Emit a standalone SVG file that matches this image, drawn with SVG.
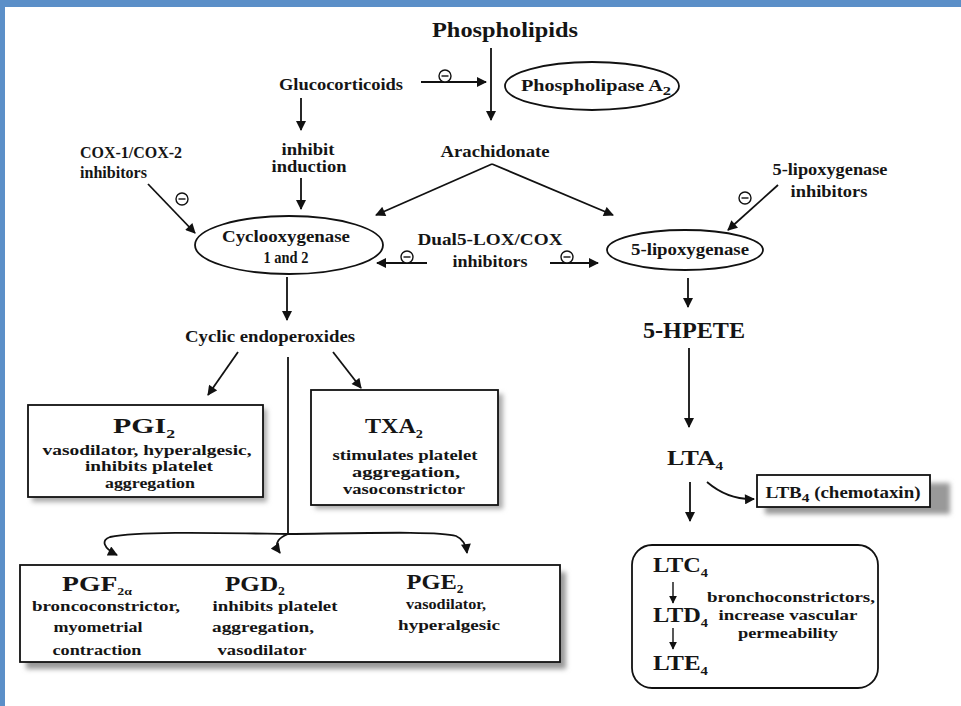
<svg xmlns="http://www.w3.org/2000/svg" width="961" height="706" viewBox="0 0 961 706">
<style>
text{font-family:"Liberation Serif","Times New Roman",serif;font-weight:bold;fill:#151515}
.s{font-size:16px}
.d{font-size:15px}
.b{font-size:22px}
.sub{font-size:13px}
.ln{fill:none;stroke:#111;stroke-width:1.8}
.thin{fill:none;stroke:#111;stroke-width:1.4}
.box{fill:#fff;stroke:#111;stroke-width:1.8}
.inh{fill:#fff;stroke:#111;stroke-width:1.4}
</style>
<defs>
<marker id="ah" viewBox="0 0 10 10" refX="9" refY="5" markerWidth="11" markerHeight="10" markerUnits="userSpaceOnUse" orient="auto"><path d="M0,0 L10,5 L0,10 z" fill="#111"/></marker>
<marker id="ahs" viewBox="0 0 10 10" refX="9" refY="5" markerWidth="8" markerHeight="8" markerUnits="userSpaceOnUse" orient="auto"><path d="M0,0 L10,5 L0,10 z" fill="#111"/></marker>
<filter id="sh" x="-10%" y="-30%" width="120%" height="160%"><feGaussianBlur stdDeviation="2.5"/></filter>
<g id="minus"><circle r="6" class="inh"/><line x1="-3.5" y1="0" x2="3.5" y2="0" stroke="#111" stroke-width="1.4"/></g>
</defs>
<rect width="961" height="706" fill="#fff"/>
<rect x="0" y="0" width="961" height="7" fill="#5b8fc8"/>
<rect x="0" y="0" width="5" height="706" fill="#5b8fc8"/>

<g id="phospholipids"><text x="505" y="37" text-anchor="middle" font-size="22" textLength="146" lengthAdjust="spacingAndGlyphs">Phospholipids</text></g>
<g id="phospholipase">
<ellipse cx="592" cy="86" rx="87" ry="24" class="box"/>
<text class="s" x="596" y="91" text-anchor="middle" textLength="150" lengthAdjust="spacingAndGlyphs">Phospholipase A<tspan class="sub" dy="4">2</tspan></text>
</g>
<g id="glucocorticoids"><text class="s" x="341" y="90" text-anchor="middle" textLength="124" lengthAdjust="spacingAndGlyphs">Glucocorticoids</text></g>
<g id="inhibit-induction">
<text class="s" x="308" y="155" text-anchor="middle" textLength="53" lengthAdjust="spacingAndGlyphs">inhibit</text>
<text class="s" x="309" y="172" text-anchor="middle" textLength="75" lengthAdjust="spacingAndGlyphs">induction</text>
</g>
<g id="cox-inhibitors">
<text class="s" x="80" y="158" textLength="102" lengthAdjust="spacingAndGlyphs">COX-1/COX-2</text>
<text class="s" x="80" y="178" textLength="67" lengthAdjust="spacingAndGlyphs">inhibitors</text>
</g>
<g id="arachidonate"><text class="s" x="495" y="157" text-anchor="middle" textLength="109" lengthAdjust="spacingAndGlyphs">Arachidonate</text></g>
<g id="cyclooxygenase">
<ellipse cx="289" cy="245" rx="94" ry="29" class="box"/>
<text class="s" x="286" y="242" text-anchor="middle" textLength="128" lengthAdjust="spacingAndGlyphs">Cyclooxygenase</text>
<text class="s" x="286" y="263" text-anchor="middle" textLength="45" lengthAdjust="spacingAndGlyphs">1 and 2</text>
</g>
<g id="dual-inhibitors">
<text class="s" x="490" y="245" text-anchor="middle" textLength="145" lengthAdjust="spacingAndGlyphs">Dual5-LOX/COX</text>
<text class="s" x="490" y="267" text-anchor="middle" textLength="75" lengthAdjust="spacingAndGlyphs">inhibitors</text>
</g>
<g id="lipoxygenase">
<ellipse cx="685" cy="250" rx="78" ry="20" class="box"/>
<text class="s" x="690" y="255" text-anchor="middle" textLength="118" lengthAdjust="spacingAndGlyphs">5-lipoxygenase</text>
</g>
<g id="lox-inhibitors">
<text class="s" x="830" y="175" text-anchor="middle" textLength="115" lengthAdjust="spacingAndGlyphs">5-lipoxygenase</text>
<text class="s" x="829" y="197" text-anchor="middle" textLength="77" lengthAdjust="spacingAndGlyphs">inhibitors</text>
</g>
<g id="hpete"><text x="694" y="338" text-anchor="middle" font-size="23" textLength="102" lengthAdjust="spacingAndGlyphs">5-HPETE</text></g>
<g id="lta4"><text class="b" x="695" y="465" text-anchor="middle" textLength="56" lengthAdjust="spacingAndGlyphs">LTA<tspan class="sub" dy="5">4</tspan></text></g>
<g id="ltb4">
<rect x="765" y="483" width="185" height="31" fill="#999" filter="url(#sh)"/>
<rect x="757" y="475" width="173" height="32" class="box"/>
<text class="s" x="843" y="498" text-anchor="middle" textLength="155" lengthAdjust="spacingAndGlyphs">LTB<tspan class="sub" dy="4">4</tspan><tspan dy="-4"> (chemotaxin)</tspan></text>
</g>
<g id="cyclic-endoperoxides"><text class="s" x="270" y="342" text-anchor="middle" textLength="170" lengthAdjust="spacingAndGlyphs">Cyclic endoperoxides</text></g>
<g id="pgi2">
<rect x="32" y="409" width="235" height="93" fill="#aaa" filter="url(#sh)"/>
<rect x="28" y="405" width="235" height="92" class="box"/>
<text class="b" x="144" y="433" text-anchor="middle" textLength="62" lengthAdjust="spacingAndGlyphs">PGI<tspan class="sub" dy="5">2</tspan></text>
<text class="d" x="147" y="455" text-anchor="middle" textLength="209" lengthAdjust="spacingAndGlyphs">vasodilator, hyperalgesic,</text>
<text class="d" x="149" y="471" text-anchor="middle" textLength="128" lengthAdjust="spacingAndGlyphs">inhibits  platelet</text>
<text class="d" x="150" y="488" text-anchor="middle" textLength="90" lengthAdjust="spacingAndGlyphs">aggregation</text>
</g>
<g id="txa2">
<rect x="315" y="394" width="188" height="115" fill="#aaa" filter="url(#sh)"/>
<rect x="311" y="390" width="187" height="115" class="box"/>
<text class="b" x="394" y="433" text-anchor="middle" textLength="58" lengthAdjust="spacingAndGlyphs">TXA<tspan class="sub" dy="5">2</tspan></text>
<text class="d" x="405" y="460" text-anchor="middle" textLength="145" lengthAdjust="spacingAndGlyphs">stimulates platelet</text>
<text class="d" x="406" y="477" text-anchor="middle" textLength="108" lengthAdjust="spacingAndGlyphs">aggregation,</text>
<text class="d" x="404" y="494" text-anchor="middle" textLength="122" lengthAdjust="spacingAndGlyphs">vasoconstrictor</text>
</g>
<g id="prostaglandins">
<rect x="26" y="572" width="540" height="97" fill="#999" filter="url(#sh)"/>
<rect x="20" y="565" width="540" height="97" class="box"/>
<text class="b" x="97" y="591" text-anchor="middle" textLength="70" lengthAdjust="spacingAndGlyphs">PGF<tspan font-size="11" dy="4">2α</tspan></text>
<text class="d" x="106" y="611" text-anchor="middle" textLength="148" lengthAdjust="spacingAndGlyphs">broncoconstrictor,</text>
<text class="d" x="98" y="632" text-anchor="middle" textLength="89" lengthAdjust="spacingAndGlyphs">myometrial</text>
<text class="d" x="97" y="655" text-anchor="middle" textLength="89" lengthAdjust="spacingAndGlyphs">contraction</text>
<text class="b" x="255" y="591" text-anchor="middle" textLength="60" lengthAdjust="spacingAndGlyphs">PGD<tspan font-size="12" dy="4">2</tspan></text>
<text class="d" x="275" y="611" text-anchor="middle" textLength="125" lengthAdjust="spacingAndGlyphs">inhibits platelet</text>
<text class="d" x="263" y="632" text-anchor="middle" textLength="102" lengthAdjust="spacingAndGlyphs">aggregation,</text>
<text class="d" x="262" y="655" text-anchor="middle" textLength="89" lengthAdjust="spacingAndGlyphs">vasodilator</text>
<text class="b" x="435" y="589" text-anchor="middle" textLength="57" lengthAdjust="spacingAndGlyphs">PGE<tspan font-size="12" dy="4">2</tspan></text>
<text class="d" x="446" y="609" text-anchor="middle" textLength="80" lengthAdjust="spacingAndGlyphs">vasodilator,</text>
<text class="d" x="449" y="630" text-anchor="middle" textLength="102" lengthAdjust="spacingAndGlyphs">hyperalgesic</text>
</g>
<g id="leukotrienes">
<rect x="632" y="545" width="246" height="143" rx="20" class="box"/>
<text class="b" x="653" y="572" textLength="55" lengthAdjust="spacingAndGlyphs">LTC<tspan class="sub" dy="5">4</tspan></text>
<text class="b" x="653" y="622" textLength="55" lengthAdjust="spacingAndGlyphs">LTD<tspan class="sub" dy="5">4</tspan></text>
<text class="b" x="653" y="670" textLength="55" lengthAdjust="spacingAndGlyphs">LTE<tspan class="sub" dy="5">4</tspan></text>
<text class="d" x="791" y="602" text-anchor="middle" textLength="168" lengthAdjust="spacingAndGlyphs">bronchoconstrictors,</text>
<text class="d" x="788" y="620" text-anchor="middle" textLength="139" lengthAdjust="spacingAndGlyphs">increase vascular</text>
<text class="d" x="788" y="638" text-anchor="middle" textLength="100" lengthAdjust="spacingAndGlyphs">permeability</text>
</g>

<g id="connectors">
<line class="ln" x1="491" y1="48" x2="491" y2="120" marker-end="url(#ah)"/>
<line class="ln" x1="421" y1="82" x2="486" y2="82" marker-end="url(#ah)"/>
<use href="#minus" x="445" y="76"/>
<line class="ln" x1="301" y1="98" x2="301" y2="130" marker-end="url(#ah)"/>
<line class="ln" x1="301" y1="178" x2="301" y2="209" marker-end="url(#ah)"/>
<line class="ln" x1="148" y1="184" x2="195" y2="233" marker-end="url(#ah)"/>
<use href="#minus" x="182" y="199"/>
<line class="ln" x1="492" y1="164" x2="376" y2="215" marker-end="url(#ah)"/>
<line class="ln" x1="492" y1="164" x2="613" y2="215" marker-end="url(#ah)"/>
<line class="ln" x1="427" y1="263" x2="377" y2="263" marker-end="url(#ah)"/>
<use href="#minus" x="407" y="257"/>
<line class="ln" x1="550" y1="263" x2="598" y2="263" marker-end="url(#ah)"/>
<use href="#minus" x="567" y="257"/>
<line class="ln" x1="778" y1="185" x2="728" y2="230" marker-end="url(#ah)"/>
<use href="#minus" x="745" y="198"/>
<line class="ln" x1="287" y1="277" x2="287" y2="320" marker-end="url(#ah)"/>
<line class="ln" x1="688" y1="278" x2="688" y2="307" marker-end="url(#ah)"/>
<line class="ln" x1="689" y1="348" x2="689" y2="427" marker-end="url(#ah)"/>
<line class="ln" x1="690" y1="482" x2="690" y2="521" marker-end="url(#ah)"/>
<path class="ln" d="M707,482 Q728,500 754,499" marker-end="url(#ah)"/>
<line class="ln" x1="238" y1="352" x2="208" y2="395" marker-end="url(#ah)"/>
<line class="ln" x1="333" y1="352" x2="361" y2="388" marker-end="url(#ah)"/>
<line class="ln" x1="288" y1="357" x2="288" y2="534"/>
<path class="ln" d="M288,534 C220,533 140,531 110,537 C101,540 103,548 117,555" marker-end="url(#ah)"/>
<path class="ln" d="M288,534 C281,537 272,542 280,553" marker-end="url(#ah)"/>
<path class="ln" d="M288,534 C370,533 440,531 456,536 C463,539 466,545 467,553" marker-end="url(#ah)"/>
<line class="thin" x1="673" y1="582" x2="673" y2="603" marker-end="url(#ahs)"/>
<line class="thin" x1="673" y1="628" x2="673" y2="649" marker-end="url(#ahs)"/>
</g>
</svg>
